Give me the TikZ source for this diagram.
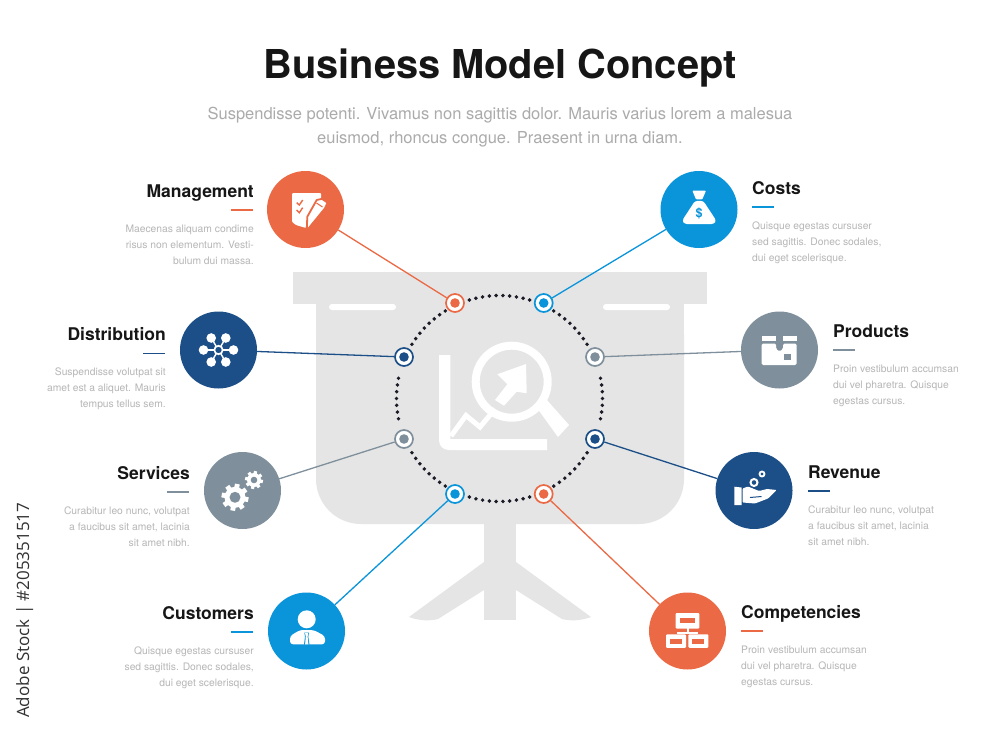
\documentclass[tikz,border=0pt]{standalone}
\usepackage{fontspec}
\setmainfont{TeX Gyre Heros}
\newfontfamily\stampfont{Open Sans}
\definecolor{cOrange}{HTML}{EB6A45}
\definecolor{cBlue}{HTML}{0A94DA}
\definecolor{cNavy}{HTML}{1C4F87}
\definecolor{cGrey}{HTML}{7F909C}
\definecolor{cBoard}{HTML}{E5E5E5}
\definecolor{cBody}{HTML}{B6B6B6}
\definecolor{cSub}{HTML}{ABABAB}
\definecolor{cInk}{HTML}{161616}
\definecolor{cDot}{HTML}{1B1B28}
\tikzset{
  bigdisc/.style={circle,fill=#1,minimum size=77pt,inner sep=0pt,outer sep=0pt},
  hub/.style={circle,draw=#1,line width=1.7pt,fill=white,minimum size=18pt,inner sep=0pt,outer sep=0.8pt,
    path picture={\fill[#1] (path picture bounding box.center) circle (4.8pt);}},
  link/.style={draw=#1,line width=1.3pt},
  headtxt/.style={font=\fontsize{17.5}{20}\selectfont\bfseries,text=cInk,inner sep=0pt},
  bodytxt/.style={font=\fontsize{10.3}{16}\selectfont,text=cBody,inner sep=0pt},
  rulebar/.style={draw=#1,line width=1.7pt},
}
% name, x, title baseline y, colour, title, body
\newcommand\leftblock[6]{%
  \node[headtxt,anchor=base east] (#1t) at (#2,#3) {#5};
  \draw[rulebar=#4] (#2-23,#3+13) -- (#2-1,#3+13);
  \node[bodytxt,anchor=north east,align=right] (#1b) at (#2,#3+27.3) {#6};
}
\newcommand\rightblock[6]{%
  \node[headtxt,anchor=base west] (#1t) at (#2,#3) {#5};
  \draw[rulebar=#4] (#2,#3+13) -- (#2+22,#3+13);
  \node[bodytxt,anchor=north west,align=left] (#1b) at (#2,#3+27.3) {#6};
}
\newcommand\gearshape[5]{% x,y,outer,body,hole
  \begin{scope}[shift={(#1,#2)}]
    \foreach \a in {0,45,...,315} {\draw[white,line width=#3*0.36pt] (0,0) -- (\a+10:#3);}
    \fill[white] (0,0) circle (#4pt);
    \fill[cGrey] (0,0) circle (#5pt);
  \end{scope}
}
\begin{document}
\begin{tikzpicture}[x=1pt,y=-1pt]
\useasboundingbox (0,0) rectangle (1000,733);
\fill[white] (0,0) rectangle (1000,733);
% board
\fill[cBoard] (293,272) rectangle (707,304);
\fill[cBoard,rounded corners=45pt] (316,290) -- (316,524) -- (684,524) -- (684,290) -- cycle;
\fill[cBoard] (316,290) rectangle (684,330);
\fill[cBoard] (484,520) rectangle (516,620);
\fill[cBoard] (484,562) -- (409,617) .. controls (420,621) and (430,621) .. (438,619) -- (484,590) -- cycle;
\fill[cBoard] (516,562) -- (591,617) .. controls (580,621) and (570,621) .. (562,619) -- (516,590) -- cycle;
\fill[white,rounded corners=3pt] (329,304) rectangle (396,310);
\fill[white,rounded corners=3pt] (603,304) rectangle (670,310);
% central icon
\fill[white] (439,355) -- (450.3,355) -- (450.3,439) -- (547,439) -- (547,450) -- (449,450)
  .. controls (443,450) and (439,446) .. (439,440) -- cycle;
\draw[white,line width=5pt] (451,436) -- (466,415.5) -- (480,427) -- (495,409);
\draw[white,line width=8pt] (511.7,381.7) circle (36pt);
\fill[white] (537,408) -- (546,399) -- (569,425) -- (558,437) -- cycle;
\fill[white] (526,364) -- (497.3,374.3) -- (507.3,384.3) -- (495,400) -- (504,405.7) -- (516.7,391.7) -- (526.7,393.3) -- cycle;
% dotted ring
\foreach \c/\n in {90/10,270/10,45/8,135/8,225/8,315/8,0/7,180/7} {
  \pgfmathsetmacro{\half}{(\n-1)/2}
  \foreach \i in {1,...,\n} {
    \pgfmathsetmacro{\ang}{\c+(\i-1-\half)*3.78}
    \fill[cDot] (499.5,398.5) ++(\ang:103) circle (1.95pt);
  }
}
% big discs
\node[bigdisc=cOrange] (mgmt) at (305.5,209.5) {};
\node[bigdisc=cNavy] (dist) at (218.5,350) {};
\node[bigdisc=cGrey] (serv) at (242.5,490.5) {};
\node[bigdisc=cBlue] (cust) at (306.5,631) {};
\node[bigdisc=cBlue] (cost) at (699,209.5) {};
\node[bigdisc=cGrey] (prod) at (779.5,350) {};
\node[bigdisc=cNavy] (reve) at (754,490.5) {};
\node[bigdisc=cOrange] (comp) at (687.5,631) {};
% hubs
\node[hub=cOrange] (hmgmt) at (455,303) {};
\node[hub=cNavy] (hdist) at (404,357) {};
\node[hub=cGrey] (hserv) at (404,439) {};
\node[hub=cBlue] (hcust) at (455,494) {};
\node[hub=cBlue] (hcost) at (543.7,303) {};
\node[hub=cGrey] (hprod) at (595,357) {};
\node[hub=cNavy] (hreve) at (595,439) {};
\node[hub=cOrange] (hcomp) at (543.7,494) {};
% connectors
\draw[link=cOrange] (mgmt) -- (hmgmt);
\draw[link=cNavy] (dist) -- (hdist);
\draw[link=cGrey] (serv) -- (hserv);
\draw[link=cBlue] (cust) -- (hcust);
\draw[link=cBlue] (cost) -- (hcost);
\draw[link=cGrey] (prod) -- (hprod);
\draw[link=cNavy] (reve) -- (hreve);
\draw[link=cOrange] (comp) -- (hcomp);
% icon: management
\fill[white,rounded corners=1pt] (292,193) -- (321,193) -- (321,212) -- (306,228) -- (296,225) -- (292,222) -- cycle;
\draw[cOrange,line width=1.4pt] (296.7,202.7) -- (299.3,205) -- (302.7,200);
\draw[cOrange,line width=1.4pt] (296.7,210) -- (299.3,212.7) -- (302.7,207.7);
\filldraw[fill=white,draw=cOrange,line width=1.8pt,line join=round] (306.7,230.7) -- (307.3,216.7) -- (316.7,200) -- (322,198.8) -- (327.5,202.7) -- (325,208.3) -- cycle;
\draw[cOrange,line width=1pt] (316.5,203) -- (322.5,207);
% icon: distribution
\foreach \dx/\dy in {15/0,-15/0,7.3/12,-7.3/12,7.3/-12,-7.3/-12} {
  \draw[white,line width=1.4pt] (218.5,350) -- ++(\dx,\dy);
  \fill[white] (218.5,350) ++(\dx,\dy) circle (4.8pt);
}
\filldraw[fill=cNavy,draw=white,line width=1.7pt] (218.5,350) circle (4.2pt);
% icon: services
\gearshape{235}{497.3}{13.5}{10.5}{5.5}
\gearshape{254}{480}{9}{7}{3.3}
% icon: customers
\fill[white] (306.7,619.3) circle (9pt);
\fill[white,rounded corners=3pt] (290,644.3) -- (290,636) -- (300,630) -- (313.5,630) -- (325,636) -- (325,644.3) -- cycle;
\fill[cBlue] (304.3,632.5) -- (309,632.5) -- (308.3,636.7) -- (309.5,644.5) -- (304,644.5) -- (305,636.7) -- cycle;
\fill[white] (305.1,633.2) -- (308.2,633.2) -- (307.6,636.5) -- (308.4,644.3) -- (305.1,644.3) -- (305.8,636.5) -- cycle;
% icon: costs
\fill[white,rounded corners=0.8pt] (692.3,190.7) -- (706,190.7) -- (702.3,199.3) -- (696,199.3) -- cycle;
\fill[white,rounded corners=2.5pt] (695,200.9) -- (703.3,200.9) -- (716.2,220.5) -- (714,224) -- (684.5,224) -- (682.2,220.5) -- cycle;
\node[inner sep=0pt,text=cBlue,font=\fontsize{12.5}{14}\selectfont\bfseries] (dollar) at (699.2,213.5) {\$};
% icon: products
\fill[white] (761.7,336) rectangle (776,341);
\fill[white] (783,336) rectangle (796.7,341);
\fill[white,rounded corners=1.5pt] (761.7,343.5) -- (776,343.5) -- (776,349) -- (779.5,351.5) -- (783,349) -- (783,343.5) -- (796.7,343.5) -- (796.7,365) -- (761.7,365) -- cycle;
\fill[cGrey] (783.5,354) rectangle (790.5,359.5);
% icon: revenue
\fill[white] (734.3,486.7) -- (741.5,487.5) -- (741.5,505) -- (734.3,505) -- cycle;
\fill[white,rounded corners=1pt] (742.5,488.5) -- (748,486.5) -- (759,491) -- (763,490) -- (767,489) -- (776.7,490) -- (768,498.5) -- (755,503.5) -- (742.5,502.5) -- cycle;
\draw[cNavy,line width=1pt] (750,497.5) -- (761.5,496.5);
\draw[white,line width=1.8pt] (762,474) circle (2.5pt);
\draw[white,line width=2pt] (754,482.5) circle (3.5pt);
% icon: competencies
\begin{scope}[white,line width=2pt]
\fill[white,rounded corners=1pt] (675.7,613) rectangle (699.3,628.5);
\fill[cOrange] (680,618.3) rectangle (694.7,623.3);
\draw (687.5,628) -- (687.5,633);
\draw (677,632.7) -- (698,632.7);
\fill[white,rounded corners=1pt] (666,634.3) rectangle (686,647.8);
\fill[white,rounded corners=1pt] (688.3,634.3) rectangle (708.3,647.8);
\fill[cOrange] (670,638.5) rectangle (682,643.5);
\fill[cOrange] (692.3,638.5) rectangle (704.3,643.5);
\end{scope}
% title
\node[inner sep=0pt,anchor=base,font=\fontsize{39.8}{44}\selectfont\bfseries,text=cInk] (title) at (500,79) {Business Model Concept};
\node[inner sep=0pt,anchor=base,font=\fontsize{16.5}{20}\selectfont,text=cSub] (sub1) at (500,119) {Suspendisse potenti. Vivamus non sagittis dolor. Mauris varius lorem a malesua};
\node[inner sep=0pt,anchor=base,font=\fontsize{16.5}{20}\selectfont,text=cSub] (sub2) at (500,143) {euismod, rhoncus congue. Praesent in urna diam.};
% labels
\leftblock{lm}{254}{197}{cOrange}{Management}{Maecenas aliquam condime\\risus non elementum. Vesti-\\bulum dui massa.}
\leftblock{ld}{166}{340.5}{cNavy}{Distribution}{Suspendisse volutpat sit\\amet est a aliquet. Mauris\\tempus tellus sem.}
\leftblock{ls}{190}{479}{cGrey}{Services}{Curabitur leo nunc, volutpat\\a faucibus sit amet, lacinia\\sit amet nibh.}
\leftblock{lc}{254}{619}{cBlue}{Customers}{Quisque egestas cursuser\\sed sagittis. Donec sodales,\\dui eget scelerisque.}
\rightblock{rc}{752}{194}{cBlue}{Costs}{Quisque egestas cursuser\\sed sagittis. Donec sodales,\\dui eget scelerisque.}
\rightblock{rp}{833}{337}{cGrey}{Products}{Proin vestibulum accumsan\\dui vel pharetra. Quisque\\egestas cursus.}
\rightblock{rr}{808}{478}{cNavy}{Revenue}{Curabitur leo nunc, volutpat\\a faucibus sit amet, lacinia\\sit amet nibh.}
\rightblock{rk}{741}{618}{cOrange}{Competencies}{Proin vestibulum accumsan\\dui vel pharetra. Quisque\\egestas cursus.}
% side stamp
\node[inner sep=0pt,anchor=base west,rotate=90,font=\stampfont\fontsize{17}{20}\selectfont,text=black!80] (stamp) at (29,718) {Adobe Stock | \#205351517};
\end{tikzpicture}
\end{document}
